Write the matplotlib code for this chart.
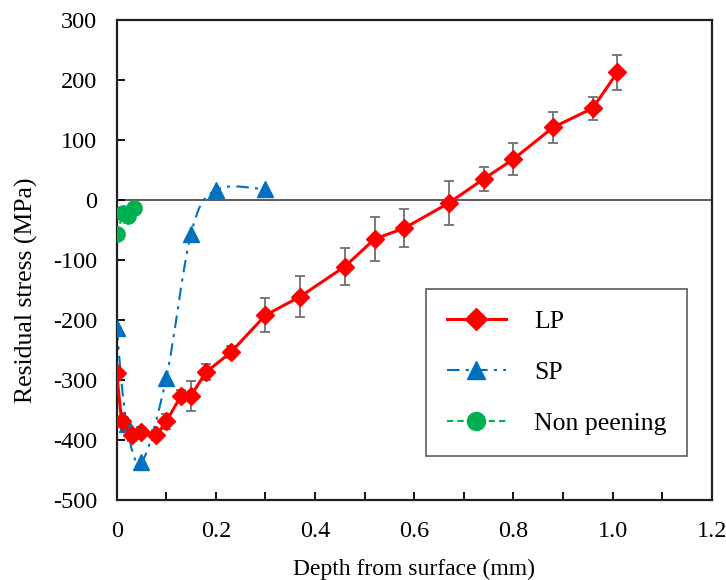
import numpy as np
import matplotlib.pyplot as plt
from matplotlib.path import Path
from matplotlib.patches import PathPatch
from matplotlib.lines import Line2D

plt.rcParams["font.family"] = ["Liberation Serif", "DejaVu Serif"]
plt.rcParams["axes.unicode_minus"] = False

# LP (laser peening) with error bars
lp_depth = [0.0, 0.01, 0.03, 0.05, 0.08, 0.10, 0.13, 0.15, 0.18, 0.23, 0.30,
            0.37, 0.46, 0.52, 0.58, 0.67, 0.74, 0.80, 0.88, 0.96, 1.01]
lp_stress = [-288, -369, -391, -386, -392, -369, -326, -326, -287, -254, -192,
             -161, -111, -65, -47, -5, 35, 68, 121, 153, 213]
lp_err = [0, 0, 10, 8, 8, 12, 10, 25, 13, 10, 28,
          34, 31, 36, 32, 37, 20, 27, 26, 19, 29]

# SP (shot peening)
sp_depth = [0.0, 0.02, 0.05, 0.10, 0.15, 0.20, 0.30]
sp_stress = [-213, -373, -437, -297, -56, 17, 18]

# Non peening
np_depth = [0.0, 0.013, 0.023, 0.035]
np_stress = [-56, -22, -26, -13]

RED = "#FF0000"
BLUE = "#0070C0"
GREEN = "#00B050"


def smooth_path(xs, ys):
    # Excel-style smoothed line as cubic Bezier segments
    pts = np.column_stack([xs, ys]).astype(float)
    n = len(pts)
    verts = [pts[0]]
    codes = [Path.MOVETO]
    for i in range(n - 1):
        p0 = pts[i - 1] if i > 0 else pts[i]
        p1 = pts[i]
        p2 = pts[i + 1]
        p3 = pts[i + 2] if i + 2 < n else pts[i + 1]
        c1 = p1 + (p2 - p0) / 6.0
        c2 = p2 - (p3 - p1) / 6.0
        verts += [c1, c2, p2]
        codes += [Path.CURVE4] * 3
    return Path(verts, codes)


fig = plt.figure(figsize=(7.26, 5.80), dpi=100)
ax = fig.add_axes([0.1607, 0.1379, 0.8196, 0.8276])

ax.axhline(0, color="#404040", lw=1.2, zorder=1)

# SP smoothed dash-dot curve
sp_patch = PathPatch(smooth_path(sp_depth, sp_stress), facecolor="none",
                     edgecolor=BLUE, lw=1.5, linestyle=(0, (6, 3, 1.5, 3)), zorder=2)
ax.add_patch(sp_patch)
ax.plot(sp_depth, sp_stress, linestyle="none", marker="^", color=BLUE,
        markersize=11, zorder=3)

# Non peening
ax.plot(np_depth, np_stress, linestyle=(0, (3, 2)), color=GREEN, lw=1.5,
        marker="o", markersize=11, zorder=3)

# LP with error bars
ax.errorbar(lp_depth, lp_stress, yerr=lp_err, fmt="none", ecolor="#707070",
            elinewidth=1.3, capsize=3.5, capthick=1.3, zorder=2)
ax.plot(lp_depth, lp_stress, color=RED, lw=2.2, marker="D", markersize=9.5,
        zorder=4)

ax.set_xlim(0, 1.2)
ax.set_ylim(-500, 300)
ax.set_xticks(np.arange(0, 1.21, 0.2))
ax.set_xticklabels(["0", "0.2", "0.4", "0.6", "0.8", "1.0", "1.2"])
ax.set_xticks(np.arange(0.1, 1.2, 0.2), minor=True)
ax.set_yticks(np.arange(-500, 301, 100))
ax.tick_params(axis="both", which="both", direction="in", length=6, width=1.3,
               labelsize=17.5)
ax.tick_params(axis="x", which="both", pad=15)
ax.tick_params(axis="y", which="both", pad=14)
for s in ax.spines.values():
    s.set_linewidth(1.6)
    s.set_color("#202020")

ax.set_xlabel("Depth from surface (mm)", fontsize=17)
ax.set_ylabel("Residual stress (MPa)", fontsize=18.5)
ax.xaxis.set_label_coords(0.5, -0.122)
ax.yaxis.set_label_coords(-0.132, 0.4375)

handles = [
    Line2D([], [], color=RED, lw=2.2, marker="D", markersize=11),
    Line2D([], [], color=BLUE, lw=1.5, linestyle=(0, (6, 3, 1.5, 3)), marker="^", markersize=13),
    Line2D([], [], color=GREEN, lw=1.5, linestyle=(0, (3, 2)), marker="o", markersize=13),
]
leg = ax.legend(handles, ["LP", "SP", "Non peening"], loc="lower left",
                bbox_to_anchor=(0.5198, 0.0926), fontsize=18.5, frameon=True,
                fancybox=False, edgecolor="#333333", handlelength=2.3,
                labelspacing=1.1, borderpad=0.8, handletextpad=1.1,
                borderaxespad=0)
leg.get_frame().set_linewidth(1.2)

fig.savefig("out.png", dpi=100)
